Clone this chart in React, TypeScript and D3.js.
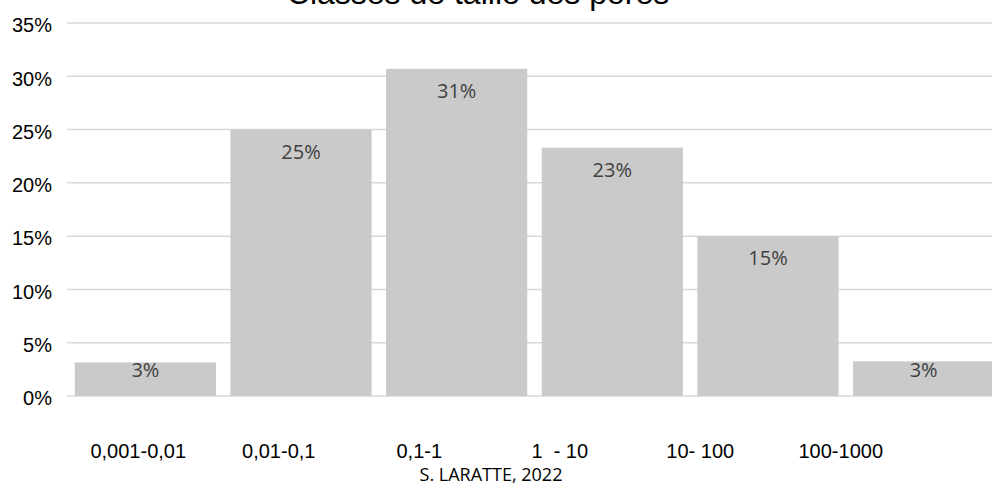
import React from "react";
import * as d3 from "d3";

const categories = ["0,001-0,01", "0,01-0,1", "0,1-1", "1  - 10", "10- 100", "100-1000"];
const values = [3.15, 25.0, 30.7, 23.3, 15.0, 3.25];
const valueLabels = ["3%", "25%", "31%", "23%", "15%", "3%"];
const yTicks = [0, 5, 10, 15, 20, 25, 30, 35];
const title = "Classes de taille des pores";
const source = "S. LARATTE, 2022";

const W = 992;
const H = 488;

export default function App() {
  const x = d3.scaleBand<string>().domain(categories).range([67, 1002]).paddingInner(0.093).paddingOuter(0.05);
  const xl = d3.scaleBand<string>().domain(categories).range([68, 911]);
  const y = d3.scaleLinear().domain([0, 35]).range([396, 23]);

  return (
    <svg width={W} height={H} style={{ position: "absolute", left: 0, top: 0, background: "#fff" }}>
      <text x={478} y={4} textAnchor="middle" fontFamily="'Liberation Sans', Arial, sans-serif" fontSize={32} fill="#000">
        {title}
      </text>
      {yTicks.map((t) => (
        <g key={t}>
          <line x1={67} x2={1002} y1={y(t)} y2={y(t)} stroke="#d9d9d4" strokeWidth={1.5} />
          <text x={52} y={y(t) + 4} textAnchor="end" dominantBaseline="middle" fontFamily="'Liberation Sans', Arial, sans-serif" fontSize={20} fill="#000">
            {t}%
          </text>
        </g>
      ))}
      {categories.map((c, i) => {
        const top = y(values[i]);
        const ly = Math.min(top + 24, y(0) - 24);
        return (
          <g key={c}>
            <rect x={x(c)} y={top} width={x.bandwidth()} height={y(0) - top} fill="#cacaca" />
            <text x={(x(c) as number) + x.bandwidth() / 2} y={ly} textAnchor="middle" dominantBaseline="middle" fontFamily="'Open Sans', sans-serif" fontSize={20} fill="#404040">
              {valueLabels[i]}
            </text>
            <text x={(xl(c) as number) + xl.bandwidth() / 2} y={458} textAnchor="middle" fontFamily="'Liberation Sans', Arial, sans-serif" fontSize={20} fill="#000" style={{ whiteSpace: "pre" }}>
              {c}
            </text>
          </g>
        );
      })}
      <text x={491} y={481} textAnchor="middle" fontFamily="'Open Sans', sans-serif" fontSize={18} fill="#000">
        {source}
      </text>
    </svg>
  );
}
